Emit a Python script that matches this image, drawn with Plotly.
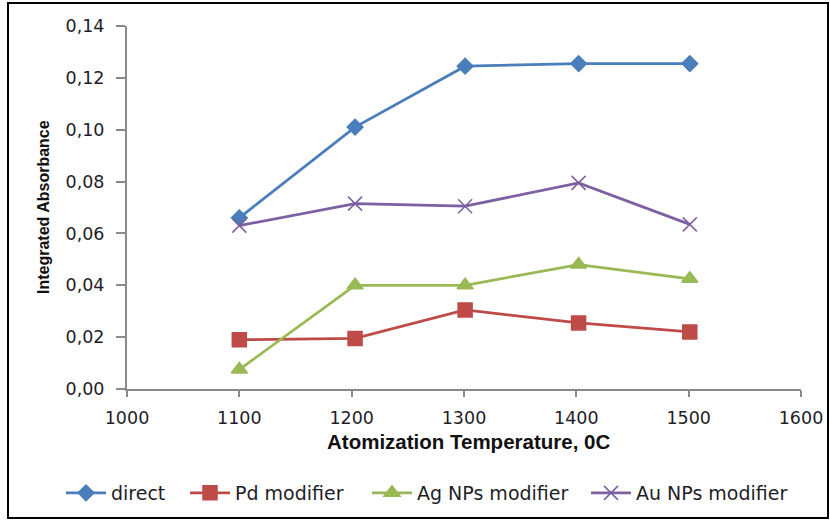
import plotly.graph_objects as go

temps = [1100, 1203, 1301, 1402, 1501]
direct = [0.066, 0.101, 0.1245, 0.1255, 0.1255]
pd_mod = [0.019, 0.0195, 0.0305, 0.0255, 0.022]
ag_mod = [0.0075, 0.040, 0.040, 0.048, 0.0425]
au_mod = [0.063, 0.0715, 0.0705, 0.0795, 0.0635]

names = ["direct", "Pd modifier", "Ag NPs modifier", "Au NPs modifier"]
colors = ["#4A7EBB", "#BE4B48", "#98B954", "#7D60A0"]
symbols = ["diamond", "square", "triangle-up", "x-thin-open"]
sizes = [12, 14, 14, 14]
series = [direct, pd_mod, ag_mod, au_mod]
legend_ids = ["legend", "legend2", "legend3", "legend4"]
legend_marker_x = [83, 207, 389, 608]

L, R, T, B = 127, 801, 26, 389
W, H = 830, 520
pw, ph = R - L, B - T

def px(x):
    return (x - L) / pw

def py(y):
    return (B - y) / ph

fig = go.Figure()
for n, c, s, sz, v, lg in zip(names, colors, symbols, sizes, series, legend_ids):
    fig.add_trace(go.Scatter(
        x=temps, y=v, name=n, mode="lines+markers", legend=lg,
        line=dict(color=c, width=2.75),
        marker=dict(symbol=s, size=sz, color=c, line=dict(color=c, width=1.5)),
    ))

text_color = "#1e1e28"
tick_font = dict(family="DejaVu Sans", size=17.5, color=text_color)
legend_font = dict(size=19, family="DejaVu Sans", color=text_color)

legends = {}
for lg, mx in zip(legend_ids, legend_marker_x):
    legends[lg] = dict(orientation="h", x=px(mx - 22), xanchor="left", y=py(493), yanchor="middle",
                       font=legend_font, bgcolor="rgba(0,0,0,0)", itemwidth=40)

fig.update_layout(
    width=W, height=H,
    margin=dict(l=L, r=W - R, t=T, b=H - B, autoexpand=False),
    paper_bgcolor="white", plot_bgcolor="white",
    separators=",.",
    font=dict(family="DejaVu Sans", size=17, color=text_color),
    showlegend=True,
    xaxis=dict(range=[1000, 1600], tickvals=[1000, 1100, 1200, 1300, 1400, 1500, 1600],
               showgrid=False, zeroline=False, showline=True, linecolor="#8a8a8a", linewidth=2,
               ticks="outside", ticklen=6, tickwidth=2, tickcolor="#8a8a8a",
               tickfont=tick_font, ticklabelstandoff=6, automargin=False),
    yaxis=dict(range=[0, 0.14], tickvals=[0, 0.02, 0.04, 0.06, 0.08, 0.10, 0.12, 0.14],
               tickformat=".2f",
               showgrid=False, zeroline=False, showline=True, linecolor="#8a8a8a", linewidth=2,
               ticks="outside", ticklen=9, tickwidth=2, tickcolor="#8a8a8a",
               tickfont=tick_font, ticklabelstandoff=8, automargin=False),
    annotations=[
        dict(text="<b>Atomization Temperature, 0C</b>", xref="paper", yref="paper",
             x=px(468), y=py(441), xanchor="center", yanchor="middle", showarrow=False,
             font=dict(family="Liberation Sans", size=20.5, color="#111")),
        dict(text="<b>Integrated Absorbance</b>", xref="paper", yref="paper",
             x=px(43), y=py(207), xanchor="center", yanchor="middle", showarrow=False,
             textangle=-90, font=dict(family="Liberation Sans", size=16, color="#111")),
    ],
    shapes=[dict(type="rect", xref="paper", yref="paper",
                 x0=px(8), x1=px(828), y0=py(518), y1=py(3),
                 line=dict(color="black", width=2), fillcolor="rgba(0,0,0,0)", layer="below")],
    **legends,
)

fig.write_html("out.html")
